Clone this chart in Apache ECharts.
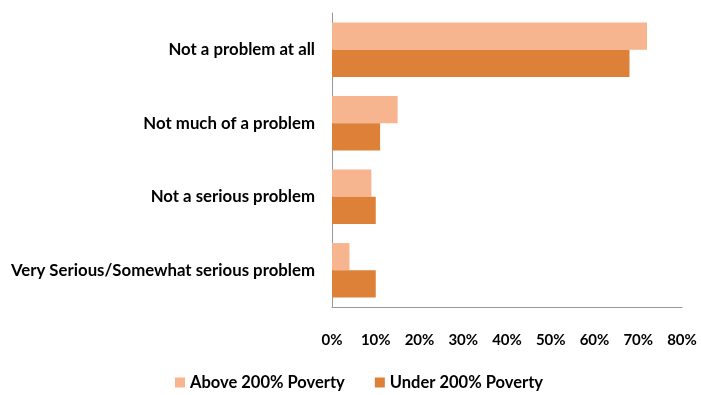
<!DOCTYPE html>
<html>
<head>
<meta charset="utf-8">
<script src="https://cdn.jsdelivr.net/npm/echarts@6/dist/echarts.min.js"></script>
<style>
  html, body { margin: 0; padding: 0; background: #fff; }
  #chart { width: 701px; height: 395px; }
</style>
</head>
<body>
<div id="chart"></div>
<script>
/* data */
const categories = [
  "Not a problem at all",
  "Not much of a problem",
  "Not a serious problem",
  "Very Serious/Somewhat serious problem"
];
const above200 = [72, 15, 9, 4];
const under200 = [68, 11, 10, 10];
const seriesNames = ["Above 200% Poverty", "Under 200% Poverty"];

const FONT = "Lato";

const chart = echarts.init(document.getElementById("chart"));
chart.setOption({
  animation: false,
  color: ["#f6b48f", "#dd8139"],
  grid: { left: 332, right: 19, top: 13, bottom: 88 },
  legend: {
    bottom: -1,
    left: 170,
    itemWidth: 10,
    itemHeight: 10,
    itemGap: 30,
    icon: "rect",
    textStyle: { fontFamily: FONT, fontWeight: "bold", fontSize: 16.5, color: "#000" },
    data: seriesNames
  },
  xAxis: {
    type: "value",
    min: 0,
    max: 80,
    interval: 10,
    splitLine: { show: false },
    axisLine: { show: true, lineStyle: { color: "#999" } },
    axisTick: { show: false },
    axisLabel: {
      formatter: "{value}%",
      margin: 26,
      fontFamily: FONT, fontWeight: "bold", fontSize: 15, color: "#000"
    }
  },
  yAxis: {
    type: "category",
    inverse: true,
    data: categories,
    axisLine: { show: true, lineStyle: { color: "#999" } },
    axisTick: { show: false },
    axisLabel: {
      margin: 17,
      fontFamily: FONT, fontWeight: "bold", fontSize: 16.8, color: "#000"
    }
  },
  series: [
    { name: seriesNames[0], type: "bar", data: above200, barGap: "0%", barCategoryGap: "26%" },
    { name: seriesNames[1], type: "bar", data: under200, barGap: "0%", barCategoryGap: "26%" }
  ]
});
</script>
</body>
</html>
